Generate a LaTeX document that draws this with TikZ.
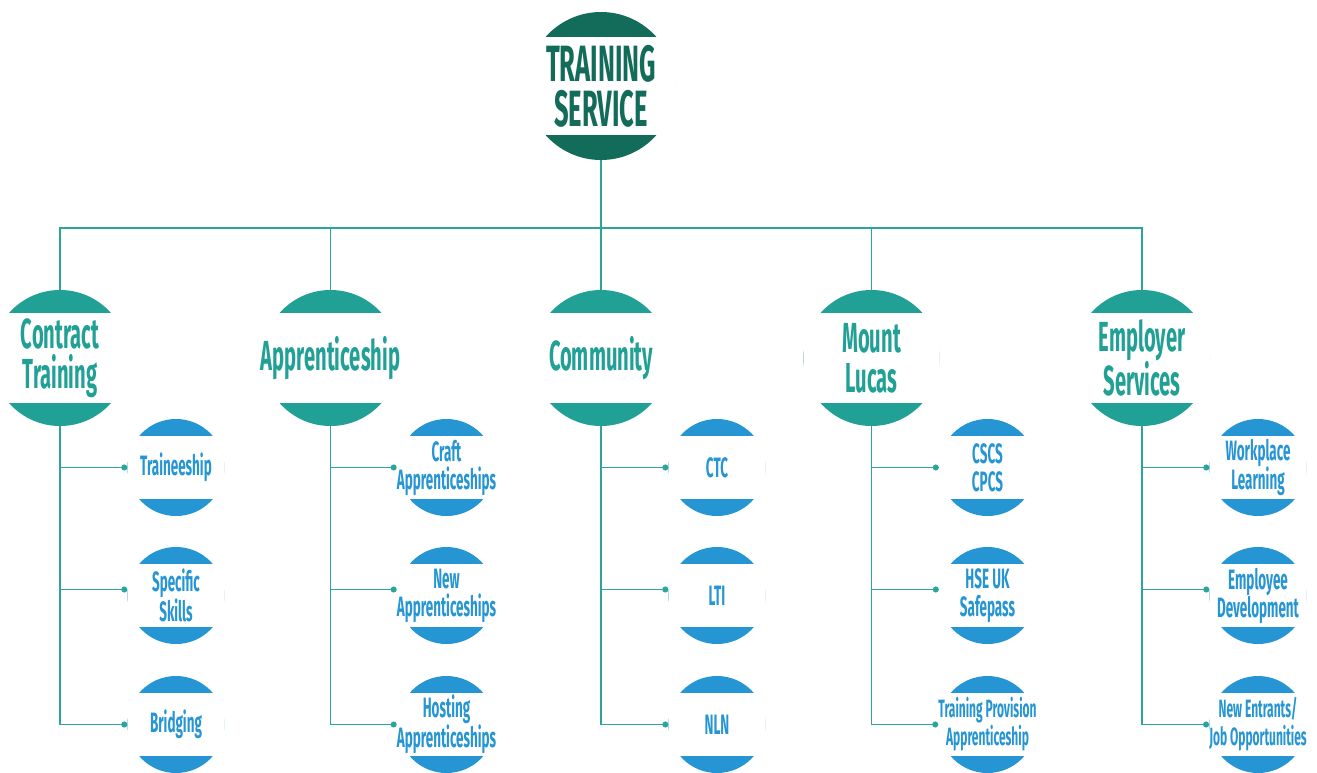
\documentclass[tikz,border=0pt]{standalone}
\usepackage{fontspec}
\setmainfont{Fira Sans}[FakeStretch=0.48]
\newfontfamily\topfont{Fira Sans}[FakeStretch=0.5]
\usepackage{tikz}
\usetikzlibrary{arrows.meta}

\definecolor{darkgreen}{HTML}{136B5A}
\definecolor{midteal}{HTML}{21A096}
\definecolor{leafblue}{HTML}{2595D3}
\definecolor{linecol}{HTML}{2BA59B}

\begin{document}
\begin{tikzpicture}[x=1pt,y=-1pt,node distance=270.5pt,
		bubble/.style n args={3}{rectangle,inner sep=0pt,align=center,
			minimum width=2*#1,minimum height=2*#1,
			path picture={\fill[#3] (path picture bounding box.center) circle (#1);
				\fill[white] ([shift={(-#1,-#2)}]path picture bounding box.center)
					rectangle ([shift={(#1,#2)}]path picture bounding box.center);}},
		top node/.style={bubble={74pt}{49pt}{darkgreen},text=darkgreen,
			font=\topfont\bfseries\fontsize{51}{45}\selectfont},
		mid node/.style={bubble={68pt}{45pt}{midteal},text=midteal,
			font=\bfseries\fontsize{42}{40}\selectfont},
		leaf node/.style={bubble={48.5pt}{31.5pt}{leafblue},text=leafblue,
			font=\bfseries\fontsize{28}{28}\selectfont},
		long leaf/.style={leaf node,font=\bfseries\fontsize{25}{28}\selectfont},
		link/.style={draw=linecol,line width=1.3pt},
		dot/.style={link,-{Circle[length=6pt]}}]
	\useasboundingbox (0,0) rectangle (1317,772);
	
	\node[top node] (ts) at (601,86) {TRAINING\\SERVICE};
	
	\node[mid node] (com) at (601,358) {Community};
	\node[mid node] (app) [left of=com] {Apprenticeship};
	\node[mid node] (ct) [left of=app] {Contract\\Training};
	\node[mid node] (ml) [right of=com] {Mount\\Lucas};
	\node[mid node] (es) [right of=ml] {Employer\\Services};
	
	\node[leaf node] (ct1) at (176,467.5) {Traineeship};
	\node[leaf node] (ct2) at (176,595.5) {Specific\\Skills};
	\node[leaf node] (ct3) at (176,724.5) {Bridging};
	\node[leaf node] (app1) at (446.5,467.5) {Craft\\Apprenticeships};
	\node[leaf node] (app2) at (446.5,595.5) {New\\Apprenticeships};
	\node[leaf node] (app3) at (446.5,724.5) {Hosting\\Apprenticeships};
	\node[leaf node] (com1) at (717,467.5) {CTC};
	\node[leaf node] (com2) at (717,595.5) {LTI};
	\node[leaf node] (com3) at (717,724.5) {NLN};
	\node[leaf node] (ml1) at (987.5,467.5) {CSCS\\CPCS};
	\node[leaf node] (ml2) at (987.5,595.5) {HSE UK\\Safepass};
	\node[long leaf] (ml3) at (987.5,724.5) {Training Provision\\Apprenticeship};
	\node[leaf node] (es1) at (1258,467.5) {Workplace\\Learning};
	\node[leaf node] (es2) at (1258,595.5) {Employee\\Development};
	\node[long leaf] (es3) at (1258,724.5) {New Entrants/\\Job Opportunities};
	
	% top level
	\coordinate (bar) at (601,228);
	\draw[link] (ts.south) -- (bar);
	\draw[link] (ct.north) -- (ct.north |- bar) -- (es.north |- bar) -- (es.north);
	\draw[link] (app.north) -- (app.north |- bar);
	\draw[link] (com.north) -- (com.north |- bar);
	\draw[link] (ml.north) -- (ml.north |- bar);
	
	% branches
	\draw[dot] (ct.south) |- (ct1.west);
	\draw[dot] (ct.south) |- ([yshift=6pt]ct2.west);
	\draw[dot] (ct.south) |- (ct3.west);
	\draw[dot] (app.south) |- (app1.west);
	\draw[dot] (app.south) |- ([yshift=6pt]app2.west);
	\draw[dot] (app.south) |- (app3.west);
	\draw[dot] (com.south) |- (com1.west);
	\draw[dot] (com.south) |- ([yshift=6pt]com2.west);
	\draw[dot] (com.south) |- (com3.west);
	\draw[dot] (ml.south) |- (ml1.west);
	\draw[dot] (ml.south) |- ([yshift=6pt]ml2.west);
	\draw[dot] (ml.south) |- (ml3.west);
	\draw[dot] (es.south) |- (es1.west);
	\draw[dot] (es.south) |- ([yshift=6pt]es2.west);
	\draw[dot] (es.south) |- (es3.west);
\end{tikzpicture}
\end{document}
